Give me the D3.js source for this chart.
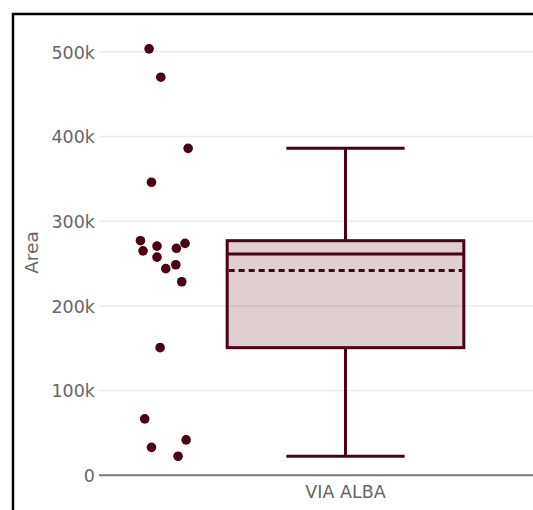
<!DOCTYPE html>
<html>
<head>
<meta charset="utf-8">
<script src="https://cdn.jsdelivr.net/npm/d3@7"></script>
<style>
  html, body { margin: 0; padding: 0; background: #fff; }
  svg { display: block; }
  text { font-family: "DejaVu Sans", Verdana, sans-serif; }
</style>
</head>
<body>
<svg id="chart" width="533" height="510"></svg>
<script>
// ---- data ----
const categories = ["VIA ALBA"];
const areaValues = [503500, 470000, 386000, 346000, 277000, 265000, 270600, 257600, 268000,
                    273800, 244000, 248600, 228500, 150700, 66600, 33000, 41800, 22500];
// horizontal jitter of each point, as a fraction of the box half-width
const jitter = [-0.130, -0.031, 0.200, -0.110, -0.203, -0.181, -0.063, -0.063, 0.101,
                0.174, 0.011, 0.096, 0.146, -0.037, -0.167, -0.110, 0.183, 0.115];
const yTicks = [0, 100000, 200000, 300000, 400000, 500000];
const yTitle = "Area";

// ---- styles ----
const lineColor = "#4d0012";
const fillColor = "rgba(77,0,18,0.19)";
const textColor = "#666";

const svg = d3.select("#chart");

// frame border
svg.append("rect")
  .attr("x", 13).attr("y", 14).attr("width", 600).attr("height", 600)
  .attr("fill", "none").attr("stroke", "#000").attr("stroke-width", 2.5);

const plotLeft = 99, plotRight = 592, plotTop = 30, plotBottom = 475;

const y = d3.scaleLinear().domain([0, 500000]).range([475.3, 51.8]);
const x = d3.scaleBand().domain(categories).range([plotLeft, plotRight]).padding(0);

// gridlines
svg.append("g").selectAll("line")
  .data(yTicks.filter(d => d !== 0))
  .join("line")
  .attr("x1", plotLeft).attr("x2", 540)
  .attr("y1", d => y(d)).attr("y2", d => y(d))
  .attr("stroke", "#ececec").attr("stroke-width", 1.5);

// y axis tick labels
const yAxis = d3.axisLeft(y).tickValues(yTicks).tickFormat(d3.format("~s")).tickSize(0).tickPadding(4);
const gy = svg.append("g").attr("transform", `translate(${plotLeft},0)`).call(yAxis);
gy.select(".domain").remove();
gy.selectAll("text")
  .attr("fill", textColor).style("font-size", "17.5px")
  .style("font-family", "'DejaVu Sans', sans-serif")
  .attr("dy", "0.36em");

// x axis line + label
const xAxis = d3.axisBottom(x).tickSize(0).tickPadding(10);
const gx = svg.append("g").attr("transform", `translate(0,${y(0)})`).call(xAxis);
gx.select(".domain").attr("stroke", "#777").attr("stroke-width", 2).attr("d", `M${plotLeft},0H540`);
gx.selectAll("text")
  .attr("fill", textColor).style("font-size", "17.5px")
  .style("font-family", "'DejaVu Sans', sans-serif");

// y title
svg.append("text")
  .attr("transform", `translate(38,${(plotTop + plotBottom) / 2}) rotate(-90)`)
  .attr("text-anchor", "middle")
  .attr("fill", textColor).style("font-size", "18.5px")
  .text(yTitle);

// ---- box stats (plotly 'linear' quartile method) ----
const sorted = areaValues.slice().sort((a, b) => a - b);
function q(p) {
  const n = sorted.length;
  const pos = n * p + 0.5; // 1-based
  const lo = Math.floor(pos), frac = pos - lo;
  const a = sorted[Math.max(0, lo - 1)], b = sorted[Math.min(n - 1, lo)];
  return a + frac * (b - a);
}
const q1 = q(0.25), med = d3.median(sorted), q3 = q(0.75);
const iqr = q3 - q1;
const lowW = d3.min(sorted.filter(v => v >= q1 - 1.5 * iqr));
const highW = d3.max(sorted.filter(v => v <= q3 + 1.5 * iqr));
const mean = d3.mean(sorted);

const cx = x(categories[0]) + x.bandwidth() / 2;
const half = x.bandwidth() * 0.24;
const capHalf = half / 2;
const pointPos = -1.53;

const g = svg.append("g");
// whiskers
g.append("line").attr("x1", cx).attr("x2", cx).attr("y1", y(q3)).attr("y2", y(highW))
  .attr("stroke", lineColor).attr("stroke-width", 3);
g.append("line").attr("x1", cx).attr("x2", cx).attr("y1", y(q1)).attr("y2", y(lowW))
  .attr("stroke", lineColor).attr("stroke-width", 3);
g.append("line").attr("x1", cx - capHalf).attr("x2", cx + capHalf).attr("y1", y(highW)).attr("y2", y(highW))
  .attr("stroke", lineColor).attr("stroke-width", 3);
g.append("line").attr("x1", cx - capHalf).attr("x2", cx + capHalf).attr("y1", y(lowW)).attr("y2", y(lowW))
  .attr("stroke", lineColor).attr("stroke-width", 3);
// box
g.append("rect").attr("x", cx - half).attr("width", 2 * half)
  .attr("y", y(q3)).attr("height", y(q1) - y(q3))
  .attr("fill", fillColor).attr("stroke", lineColor).attr("stroke-width", 3);
// median
g.append("line").attr("x1", cx - half).attr("x2", cx + half).attr("y1", y(med)).attr("y2", y(med))
  .attr("stroke", lineColor).attr("stroke-width", 3);
// mean (dashed)
g.append("line").attr("x1", cx - half + 1.5).attr("x2", cx + half - 1.5).attr("y1", y(mean)).attr("y2", y(mean))
  .attr("stroke", lineColor).attr("stroke-width", 3).attr("stroke-dasharray", "6,4");

// points
svg.append("g").selectAll("circle")
  .data(areaValues)
  .join("circle")
  .attr("cx", (d, i) => cx + pointPos * half + jitter[i] * half)
  .attr("cy", d => y(d))
  .attr("r", 4.8)
  .attr("fill", "#4d0012");
</script>
</body>
</html>
